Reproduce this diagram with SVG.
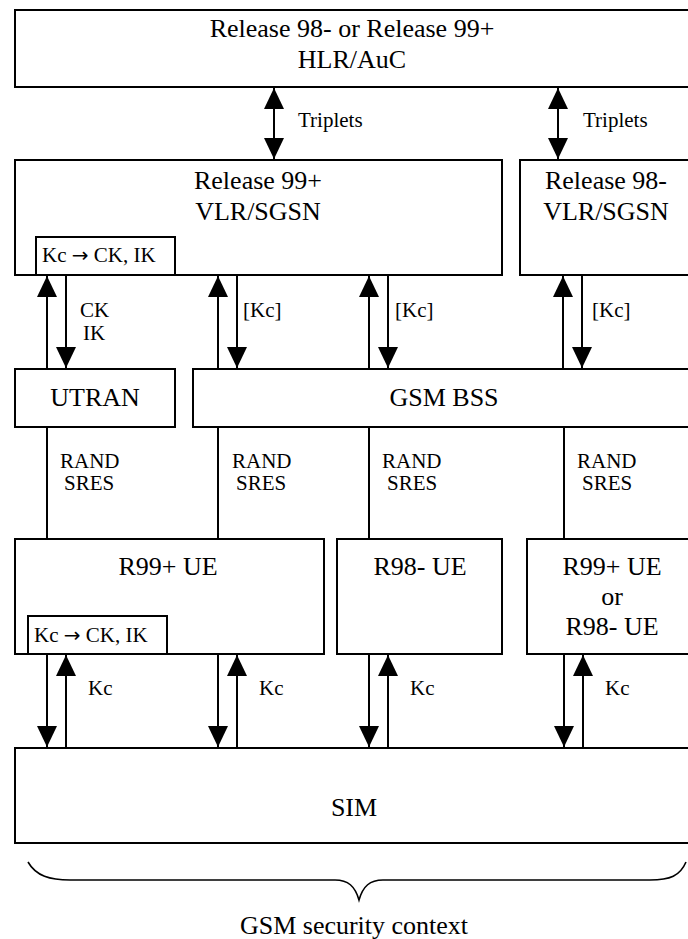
<svg xmlns="http://www.w3.org/2000/svg" width="688" height="939" viewBox="0 0 688 939">
<style>
  .box { fill: #fff; stroke: #000; stroke-width: 2; }
  .t { font-family: "Liberation Serif", "Times New Roman", serif; font-size: 26px; fill: #000; text-anchor: middle; }
  .s { font-family: "Liberation Serif", "Times New Roman", serif; font-size: 21px; fill: #000; }
  .arr { font-family: "DejaVu Sans", sans-serif; font-size: 20px; }
  .ln { stroke: #000; stroke-width: 2; fill: none; }
  .a { stroke: #000; stroke-width: 2; fill: none; marker-end: url(#ah); }
  .d { stroke: #000; stroke-width: 2; fill: none; marker-start: url(#ah); marker-end: url(#ah); }
  .brace { stroke: #000; stroke-width: 1.6; fill: none; }
</style>
<defs>
  <marker id="ah" viewBox="0 0 21 20" refX="21" refY="10" markerWidth="21" markerHeight="20" orient="auto-start-reverse" markerUnits="userSpaceOnUse">
    <path d="M0,0 L21,10 L0,20 z" fill="#000"/>
  </marker>
</defs>
<rect width="688" height="939" fill="#fff"/>

<g id="hlr">
  <rect class="box" x="15" y="10" width="690" height="77"/>
  <text class="t" x="352" y="37">Release 98- or Release 99+</text>
  <text class="t" x="352" y="68">HLR/AuC</text>
</g>
<g id="vlr99">
  <rect class="box" x="15" y="160" width="487" height="115"/>
  <text class="t" x="258" y="189">Release 99+</text>
  <text class="t" x="258" y="220">VLR/SGSN</text>
</g>
<g id="vlr99-conv">
  <rect class="box" x="36" y="237" width="139" height="38"/>
  <text class="s" x="42" y="262">Kc <tspan class="arr">→</tspan> CK, IK</text>
</g>
<g id="vlr98">
  <rect class="box" x="520" y="160" width="190" height="115"/>
  <text class="t" x="606" y="189">Release 98-</text>
  <text class="t" x="606" y="220">VLR/SGSN</text>
</g>
<g id="utran">
  <rect class="box" x="15" y="369" width="160" height="58"/>
  <text class="t" x="95" y="406">UTRAN</text>
</g>
<g id="bss">
  <rect class="box" x="193" y="369" width="510" height="58"/>
  <text class="t" x="444" y="406">GSM BSS</text>
</g>
<g id="ue99">
  <rect class="box" x="15" y="539" width="309" height="115"/>
  <text class="t" x="168" y="575">R99+ UE</text>
</g>
<g id="ue99-conv">
  <rect class="box" x="28" y="616" width="139" height="38"/>
  <text class="s" x="34" y="642">Kc <tspan class="arr">→</tspan> CK, IK</text>
</g>
<g id="ue98">
  <rect class="box" x="337" y="539" width="165" height="115"/>
  <text class="t" x="420" y="575">R98- UE</text>
</g>
<g id="ue-any">
  <rect class="box" x="527" y="539" width="180" height="115"/>
  <text class="t" x="612" y="575">R99+ UE</text>
  <text class="t" x="612" y="605">or</text>
  <text class="t" x="612" y="635">R98- UE</text>
</g>
<g id="sim">
  <rect class="box" x="15" y="748" width="690" height="95"/>
  <text class="t" x="354" y="816">SIM</text>
</g>

<g id="connectors">
  <line class="d" x1="274" y1="88" x2="274" y2="159"/>
  <line class="d" x1="558" y1="88" x2="558" y2="159"/>

  <line class="a" x1="47" y1="369" x2="47" y2="276"/>
  <line class="a" x1="66" y1="276" x2="66" y2="368"/>
  <line class="a" x1="218" y1="369" x2="218" y2="276"/>
  <line class="a" x1="237" y1="276" x2="237" y2="368"/>
  <line class="a" x1="369" y1="369" x2="369" y2="276"/>
  <line class="a" x1="388" y1="276" x2="388" y2="368"/>
  <line class="a" x1="563" y1="369" x2="563" y2="276"/>
  <line class="a" x1="582" y1="276" x2="582" y2="368"/>

  <line class="ln" x1="47" y1="427" x2="47" y2="539"/>
  <line class="ln" x1="218" y1="427" x2="218" y2="539"/>
  <line class="ln" x1="369" y1="427" x2="369" y2="539"/>
  <line class="ln" x1="564" y1="427" x2="564" y2="539"/>

  <line class="a" x1="47" y1="655" x2="47" y2="747"/>
  <line class="a" x1="66" y1="748" x2="66" y2="655"/>
  <line class="a" x1="218" y1="655" x2="218" y2="747"/>
  <line class="a" x1="237" y1="748" x2="237" y2="655"/>
  <line class="a" x1="369" y1="655" x2="369" y2="747"/>
  <line class="a" x1="388" y1="748" x2="388" y2="655"/>
  <line class="a" x1="564" y1="655" x2="564" y2="747"/>
  <line class="a" x1="583" y1="748" x2="583" y2="655"/>

  <text class="s" x="298" y="127">Triplets</text>
  <text class="s" x="583" y="127">Triplets</text>
  <text class="s" x="80" y="317">CK</text>
  <text class="s" x="83" y="340">IK</text>
  <text class="s" x="243" y="317">[Kc]</text>
  <text class="s" x="395" y="317">[Kc]</text>
  <text class="s" x="592" y="317">[Kc]</text>
  <text class="s" x="60" y="468">RAND</text>
  <text class="s" x="64" y="490">SRES</text>
  <text class="s" x="232" y="468">RAND</text>
  <text class="s" x="236" y="490">SRES</text>
  <text class="s" x="382" y="468">RAND</text>
  <text class="s" x="387" y="490">SRES</text>
  <text class="s" x="577" y="468">RAND</text>
  <text class="s" x="582" y="490">SRES</text>
  <text class="s" x="88" y="695">Kc</text>
  <text class="s" x="259" y="695">Kc</text>
  <text class="s" x="410" y="695">Kc</text>
  <text class="s" x="605" y="695">Kc</text>
</g>

<g id="context">
  <path class="brace" d="M28,862 C36,876 50,880 70,880 L335,880 C348,880 355,886 359,900 C363,886 370,880 383,880 L650,880 C670,880 680,876 686,862"/>
  <text class="t" x="354" y="934">GSM security context</text>
</g>
</svg>
